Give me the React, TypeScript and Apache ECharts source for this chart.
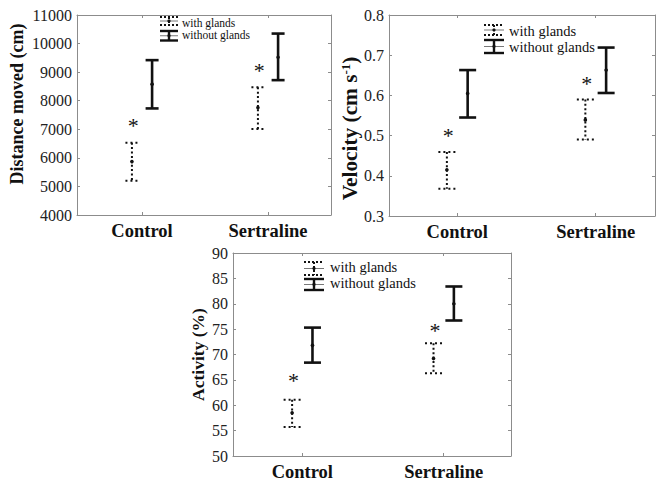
import React, { useEffect, useRef } from 'react';
import * as echarts from 'echarts';

const categories = ['Control', 'Sertraline'];
const categoryPositions = [1, 2];

// Distance moved (cm)
const distanceWithMean = [5870, 7760];
const distanceWithLow = [5200, 7010];
const distanceWithHigh = [6530, 8470];
const distanceWithoutMean = [8580, 9520];
const distanceWithoutLow = [7730, 8720];
const distanceWithoutHigh = [9420, 10350];
const distanceStar = [7220, 9150];
const distanceAxis = { min: 4000, max: 11000, interval: 1000 };

// Velocity (cm s-1)
const velocityWithMean = [0.415, 0.539];
const velocityWithLow = [0.368, 0.49];
const velocityWithHigh = [0.459, 0.59];
const velocityWithoutMean = [0.605, 0.663];
const velocityWithoutLow = [0.545, 0.606];
const velocityWithoutHigh = [0.663, 0.719];
const velocityStar = [0.506, 0.637];
const velocityAxis = { min: 0.3, max: 0.8, interval: 0.1 };

// Activity (%)
const activityWithMean = [58.5, 69.2];
const activityWithLow = [55.7, 66.3];
const activityWithHigh = [61.1, 72.2];
const activityWithoutMean = [71.8, 80.0];
const activityWithoutLow = [68.4, 76.7];
const activityWithoutHigh = [75.3, 83.4];
const activityStar = [65.3, 75.2];
const activityAxis = { min: 50, max: 90, interval: 5 };

const legendLabels = ['with glands', 'without glands'];

const SERIF = 'Liberation Serif';
const FRAME = '#8c8c8c';
const INK = '#111';

function rows(mean: number[], low: number[], high: number[]) {
  return categoryPositions.map((x, i) => [x, mean[i], low[i], high[i]]);
}

function barRenderer(dotted: boolean, offsetFrac: number, capHalf: number) {
  return (params: any, api: any) => {
    const xv = api.value(0);
    const unit = api.size([1, 0])[0];
    const dx = unit * offsetFrac;
    const top = api.coord([xv, api.value(3)]);
    const bot = api.coord([xv, api.value(2)]);
    const mid = api.coord([xv, api.value(1)]);
    const x = top[0] + dx;
    const lw = dotted ? 2 : 2.6;
    const vStyle: any = { stroke: INK, lineWidth: lw, lineDash: dotted ? [2, 2.4] : null };
    const cStyle: any = { stroke: INK, lineWidth: lw, lineDash: dotted ? [2, 3] : null };
    return {
      type: 'group',
      children: [
        { type: 'line', shape: { x1: x, y1: top[1], x2: x, y2: bot[1] }, style: vStyle },
        { type: 'line', shape: { x1: x - capHalf, y1: top[1], x2: x + capHalf, y2: top[1] }, style: cStyle },
        { type: 'line', shape: { x1: x - capHalf, y1: bot[1], x2: x + capHalf, y2: bot[1] }, style: cStyle },
        { type: 'circle', shape: { cx: x, cy: mid[1], r: 1.8 }, style: { fill: INK } },
      ],
    };
  };
}

function starRenderer(offsetFrac: number) {
  return (params: any, api: any) => {
    const xv = api.value(0);
    const unit = api.size([1, 0])[0];
    const p = api.coord([xv, api.value(1)]);
    return {
      type: 'text',
      x: p[0] + unit * offsetFrac,
      y: p[1] + 2.5,
      style: {
        text: '*',
        fontFamily: SERIF,
        fontSize: 22,
        fill: INK,
        align: 'center',
        verticalAlign: 'middle',
      },
    };
  };
}

function legendGraphic(
  iconX: number,
  iconW: number,
  dTop: number,
  dBot: number,
  sTop: number,
  sBot: number,
  textX: number,
  row1: number,
  row2: number,
  fontSize: number
) {
  const cx = iconX + iconW / 2;
  const dStyle = { stroke: INK, lineWidth: 2, lineDash: [2, 2] };
  const sStyle = { stroke: INK, lineWidth: 2.4 };
  const thin = { stroke: '#555', lineWidth: 0.8 };
  const out: any[] = [
    { type: 'line', shape: { x1: iconX, y1: dTop, x2: iconX + iconW, y2: dTop }, style: dStyle },
    { type: 'line', shape: { x1: iconX, y1: dBot, x2: iconX + iconW, y2: dBot }, style: dStyle },
    { type: 'line', shape: { x1: cx, y1: dTop, x2: cx, y2: dBot }, style: dStyle },
    { type: 'line', shape: { x1: iconX, y1: (dTop + dBot) / 2, x2: iconX + iconW, y2: (dTop + dBot) / 2 }, style: thin },
    { type: 'circle', shape: { cx, cy: (dTop + dBot) / 2, r: 1.6 }, style: { fill: INK } },
    { type: 'line', shape: { x1: iconX, y1: sTop, x2: iconX + iconW, y2: sTop }, style: sStyle },
    { type: 'line', shape: { x1: iconX, y1: sBot, x2: iconX + iconW, y2: sBot }, style: sStyle },
    { type: 'line', shape: { x1: cx, y1: sTop, x2: cx, y2: sBot }, style: sStyle },
    { type: 'line', shape: { x1: iconX, y1: (sTop + sBot) / 2, x2: iconX + iconW, y2: (sTop + sBot) / 2 }, style: thin },
    { type: 'circle', shape: { cx, cy: (sTop + sBot) / 2, r: 1.6 }, style: { fill: INK } },
  ];
  [row1, row2].forEach((y, i) => {
    out.push({
      type: 'text',
      x: textX,
      y,
      style: {
        text: legendLabels[i],
        fontFamily: SERIF,
        fontSize,
        fill: INK,
        align: 'left',
        verticalAlign: 'middle',
      },
    });
  });
  return out;
}

function xAxes(gridIndex: number, min: number, max: number) {
  const base = {
    type: 'value',
    gridIndex,
    min,
    max,
    axisLine: { show: true, onZero: false, lineStyle: { color: FRAME, width: 1 } },
    axisTick: { show: true, inside: true, length: 3, customValues: categoryPositions, lineStyle: { color: FRAME } },
    splitLine: { show: false },
  };
  return [
    {
      ...base,
      position: 'bottom',
      axisLabel: {
        customValues: categoryPositions,
        margin: 6,
        fontFamily: SERIF,
        fontWeight: 'bold',
        fontSize: 18.5,
        color: INK,
        formatter: (v: number) => `{c|${categories[Math.round(v) - 1] ?? ''}}`,
        rich: { c: { fontFamily: SERIF, fontWeight: 'bold', fontSize: 18.5, color: INK } },
      },
    },
    { ...base, position: 'top', axisLabel: { show: false } },
  ];
}

function yAxes(gridIndex: number, ax: any, name: string, nameGap: number, nameSize: number, namePadding: number[]) {
  const base = {
    type: 'value',
    gridIndex,
    min: ax.min,
    max: ax.max,
    interval: ax.interval,
    axisLine: { show: true, onZero: false, lineStyle: { color: FRAME, width: 1 } },
    axisTick: { show: true, inside: true, length: 3, lineStyle: { color: FRAME } },
    splitLine: { show: false },
  };
  return [
    {
      ...base,
      position: 'left',
      name,
      nameLocation: 'middle',
      nameGap,
      nameRotate: 90,
      nameTextStyle: {
        color: INK,
        fontFamily: SERIF,
        fontWeight: 'bold',
        fontSize: nameSize,
        padding: namePadding,
        rich: {
          sup: { fontSize: 13, fontFamily: SERIF, fontWeight: 'bold', color: INK, verticalAlign: 'top', padding: [0, 0, 8, 0] },
        },
      },
      axisLabel: {
        color: '#222',
        fontFamily: SERIF,
        fontSize: 16,
        margin: 5,
        formatter: (v: number) => `{t|${ax.interval < 1 ? v.toFixed(1) : String(v)}}`,
        rich: { t: { fontFamily: SERIF, fontSize: 16, color: '#222' } },
      },
    },
    { ...base, position: 'right', axisLabel: { show: false } },
  ];
}

function panelSeries(
  p: number,
  withMean: number[],
  withLow: number[],
  withHigh: number[],
  woMean: number[],
  woLow: number[],
  woHigh: number[],
  star: number[],
  capHalf: number,
  offset: number
) {
  const xi = p * 2;
  const yi = p * 2;
  return [
    {
      type: 'custom',
      name: legendLabels[0],
      xAxisIndex: xi,
      yAxisIndex: yi,
      renderItem: barRenderer(true, -offset, capHalf),
      data: rows(withMean, withLow, withHigh),
      encode: { x: 0, y: [1, 2, 3] },
    },
    {
      type: 'custom',
      name: legendLabels[1],
      xAxisIndex: xi,
      yAxisIndex: yi,
      renderItem: barRenderer(false, offset, capHalf),
      data: rows(woMean, woLow, woHigh),
      encode: { x: 0, y: [1, 2, 3] },
    },
    {
      type: 'custom',
      name: 'significance',
      xAxisIndex: xi,
      yAxisIndex: yi,
      renderItem: starRenderer(-offset + 0.01),
      data: categoryPositions.map((x, i) => [x, star[i]]),
      encode: { x: 0, y: 1 },
    },
  ];
}

export default function App() {
  const ref = useRef<HTMLDivElement>(null);
  useEffect(() => {
    if (!ref.current) return;
    const chart = echarts.init(ref.current, undefined, { renderer: 'svg' });
    const option: any = {
      animation: false,
      backgroundColor: '#ffffff',
      textStyle: { fontFamily: SERIF },
      grid: [
        { left: 77, top: 15, width: 254, height: 200 },
        { left: 389, top: 15, width: 266, height: 201 },
        { left: 233, top: 253, width: 278, height: 204 },
      ],
      xAxis: [...xAxes(0, 0.484, 2.5), ...xAxes(1, 0.507, 2.428), ...xAxes(2, 0.51, 2.476)],
      yAxis: [
        ...yAxes(0, distanceAxis, 'Distance moved (cm)', 51, 18, [0, 0, 0, 22]),
        ...yAxes(1, velocityAxis, 'Velocity (cm s{sup|-1})', 29, 21.3, [0, 26, 0, 0]),
        ...yAxes(2, activityAxis, 'Activity (%)', 26, 17.5, [0, 0, 0, 0]),
      ],
      series: [
        ...panelSeries(0, distanceWithMean, distanceWithLow, distanceWithHigh, distanceWithoutMean, distanceWithoutLow, distanceWithoutHigh, distanceStar, 6.5, 0.08),
        ...panelSeries(1, velocityWithMean, velocityWithLow, velocityWithHigh, velocityWithoutMean, velocityWithoutLow, velocityWithoutHigh, velocityStar, 8.5, 0.075),
        ...panelSeries(2, activityWithMean, activityWithLow, activityWithHigh, activityWithoutMean, activityWithoutLow, activityWithoutHigh, activityStar, 8.5, 0.072),
      ],
      graphic: [
        ...legendGraphic(160, 18, 17, 25, 31, 40.5, 182, 23, 35, 11.5),
        ...legendGraphic(484, 20, 25, 35, 40, 53, 509, 31, 47, 14.5),
        ...legendGraphic(304, 20, 262, 275, 279, 290, 330, 267, 283, 14.5),
      ],
    };
    chart.setOption(option);
    return () => chart.dispose();
  }, []);
  return (
    <div
      ref={ref}
      style={{ position: 'absolute', left: 0, top: 0, width: 656, height: 481, background: '#fff' }}
    />
  );
}
